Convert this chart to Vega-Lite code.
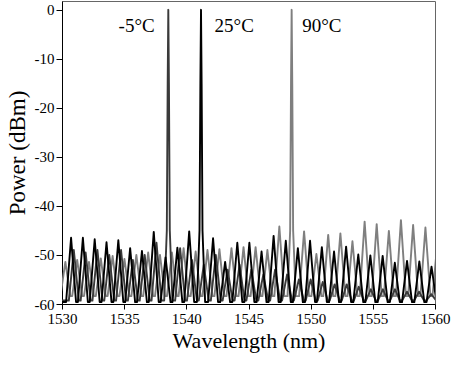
{
"$schema": "https://vega.github.io/schema/vega-lite/v6.json",
"width": 373, "height": 303,
"autosize": "none",
"padding": {"left": 62, "top": 1, "right": 16, "bottom": 66},
"config": {"font": "Liberation Serif", "view": {"stroke": "#666", "strokeWidth": 1},
"axis": {"labelFont": "Liberation Serif", "titleFont": "Liberation Serif", "labelFontSize": 15}},
"layer": [
{
"data": {"values": [
{"T":"90°C","w":1529.87,"p":-58.4},{"T":"90°C","w":1530.27,"p":-51.4},{"T":"90°C","w":1530.67,"p":-58.4},
{"T":"90°C","w":1530.82,"p":-58.4},{"T":"90°C","w":1531.22,"p":-51.0},{"T":"90°C","w":1531.62,"p":-58.4},
{"T":"90°C","w":1531.77,"p":-58.4},{"T":"90°C","w":1532.17,"p":-51.4},{"T":"90°C","w":1532.57,"p":-58.4},
{"T":"90°C","w":1532.72,"p":-58.4},{"T":"90°C","w":1533.12,"p":-50.7},{"T":"90°C","w":1533.52,"p":-58.4},
{"T":"90°C","w":1533.67,"p":-58.4},{"T":"90°C","w":1534.07,"p":-50.2},{"T":"90°C","w":1534.47,"p":-58.4},
{"T":"90°C","w":1534.62,"p":-58.4},{"T":"90°C","w":1535.02,"p":-50.8},{"T":"90°C","w":1535.42,"p":-58.4},
{"T":"90°C","w":1535.58,"p":-58.4},{"T":"90°C","w":1535.98,"p":-50.0},{"T":"90°C","w":1536.38,"p":-58.4},
{"T":"90°C","w":1536.53,"p":-58.4},{"T":"90°C","w":1536.93,"p":-49.5},{"T":"90°C","w":1537.33,"p":-58.4},
{"T":"90°C","w":1537.48,"p":-58.4},{"T":"90°C","w":1537.88,"p":-50.0},{"T":"90°C","w":1538.28,"p":-58.4},
{"T":"90°C","w":1538.44,"p":-58.4},{"T":"90°C","w":1538.84,"p":-49.5},{"T":"90°C","w":1539.24,"p":-58.4},
{"T":"90°C","w":1539.38,"p":-58.4},{"T":"90°C","w":1539.78,"p":-48.6},{"T":"90°C","w":1540.18,"p":-58.4},
{"T":"90°C","w":1540.35,"p":-58.4},{"T":"90°C","w":1540.75,"p":-49.3},{"T":"90°C","w":1541.15,"p":-58.4},
{"T":"90°C","w":1541.30,"p":-58.4},{"T":"90°C","w":1541.70,"p":-49.0},{"T":"90°C","w":1542.10,"p":-58.4},
{"T":"90°C","w":1542.26,"p":-58.4},{"T":"90°C","w":1542.66,"p":-48.8},{"T":"90°C","w":1543.06,"p":-58.4},
{"T":"90°C","w":1543.23,"p":-58.4},{"T":"90°C","w":1543.63,"p":-48.6},{"T":"90°C","w":1544.03,"p":-58.4},
{"T":"90°C","w":1544.20,"p":-58.4},{"T":"90°C","w":1544.60,"p":-48.4},{"T":"90°C","w":1545.00,"p":-58.4},
{"T":"90°C","w":1545.17,"p":-58.4},{"T":"90°C","w":1545.57,"p":-48.4},{"T":"90°C","w":1545.97,"p":-58.4},
{"T":"90°C","w":1546.12,"p":-58.4},{"T":"90°C","w":1546.52,"p":-49.0},{"T":"90°C","w":1546.92,"p":-58.4},
{"T":"90°C","w":1547.08,"p":-58.4},{"T":"90°C","w":1547.48,"p":-44.2},{"T":"90°C","w":1547.88,"p":-58.4},
{"T":"90°C","w":1548.14,"p":-58.4},{"T":"90°C","w":1548.35,"p":-45},{"T":"90°C","w":1548.42,"p":-15},{"T":"90°C","w":1548.47,"p":0},{"T":"90°C","w":1548.52,"p":-15},{"T":"90°C","w":1548.59,"p":-45},{"T":"90°C","w":1548.80,"p":-58.4},
{"T":"90°C","w":1549.07,"p":-58.4},{"T":"90°C","w":1549.47,"p":-45.2},{"T":"90°C","w":1549.87,"p":-58.4},
{"T":"90°C","w":1550.06,"p":-58.4},{"T":"90°C","w":1550.46,"p":-49.8},{"T":"90°C","w":1550.86,"p":-58.4},
{"T":"90°C","w":1551.01,"p":-58.4},{"T":"90°C","w":1551.41,"p":-45.9},{"T":"90°C","w":1551.81,"p":-58.4},
{"T":"90°C","w":1551.99,"p":-58.4},{"T":"90°C","w":1552.39,"p":-45.6},{"T":"90°C","w":1552.79,"p":-58.4},
{"T":"90°C","w":1552.96,"p":-58.4},{"T":"90°C","w":1553.36,"p":-47.2},{"T":"90°C","w":1553.76,"p":-58.4},
{"T":"90°C","w":1553.94,"p":-58.4},{"T":"90°C","w":1554.34,"p":-43.2},{"T":"90°C","w":1554.74,"p":-58.4},
{"T":"90°C","w":1554.91,"p":-58.4},{"T":"90°C","w":1555.31,"p":-43.7},{"T":"90°C","w":1555.71,"p":-58.4},
{"T":"90°C","w":1555.89,"p":-58.4},{"T":"90°C","w":1556.29,"p":-45.1},{"T":"90°C","w":1556.69,"p":-58.4},
{"T":"90°C","w":1556.86,"p":-58.4},{"T":"90°C","w":1557.26,"p":-42.9},{"T":"90°C","w":1557.66,"p":-58.4},
{"T":"90°C","w":1557.84,"p":-58.4},{"T":"90°C","w":1558.24,"p":-43.9},{"T":"90°C","w":1558.64,"p":-58.4},
{"T":"90°C","w":1558.83,"p":-58.4},{"T":"90°C","w":1559.23,"p":-44.4},{"T":"90°C","w":1559.63,"p":-58.4},
{"T":"90°C","w":1559.80,"p":-58.4},{"T":"90°C","w":1560.10,"p":-50.0},

{"T":"-5°C","w":1530.00,"p":-59.3},
{"T":"-5°C","w":1530.55,"p":-59.3},{"T":"-5°C","w":1530.95,"p":-49.0},{"T":"-5°C","w":1531.35,"p":-59.3},
{"T":"-5°C","w":1531.50,"p":-59.3},{"T":"-5°C","w":1531.90,"p":-49.5},{"T":"-5°C","w":1532.30,"p":-59.3},
{"T":"-5°C","w":1532.45,"p":-59.3},{"T":"-5°C","w":1532.85,"p":-49.0},{"T":"-5°C","w":1533.25,"p":-59.3},
{"T":"-5°C","w":1533.40,"p":-59.3},{"T":"-5°C","w":1533.80,"p":-50.0},{"T":"-5°C","w":1534.20,"p":-59.3},
{"T":"-5°C","w":1534.35,"p":-59.3},{"T":"-5°C","w":1534.75,"p":-49.0},{"T":"-5°C","w":1535.15,"p":-59.3},
{"T":"-5°C","w":1535.30,"p":-59.3},{"T":"-5°C","w":1535.70,"p":-51.0},{"T":"-5°C","w":1536.10,"p":-59.3},
{"T":"-5°C","w":1536.25,"p":-59.3},{"T":"-5°C","w":1536.65,"p":-50.0},{"T":"-5°C","w":1537.05,"p":-59.3},
{"T":"-5°C","w":1537.20,"p":-59.3},{"T":"-5°C","w":1537.60,"p":-47.5},{"T":"-5°C","w":1538.00,"p":-59.3},
{"T":"-5°C","w":1538.22,"p":-59.3},{"T":"-5°C","w":1538.43,"p":-45},{"T":"-5°C","w":1538.50,"p":-15},{"T":"-5°C","w":1538.55,"p":0},{"T":"-5°C","w":1538.60,"p":-15},{"T":"-5°C","w":1538.67,"p":-45},{"T":"-5°C","w":1538.88,"p":-59.3},
{"T":"-5°C","w":1539.10,"p":-59.3},{"T":"-5°C","w":1539.50,"p":-48.6},{"T":"-5°C","w":1539.90,"p":-59.3},
{"T":"-5°C","w":1540.05,"p":-59.3},{"T":"-5°C","w":1540.45,"p":-51.0},{"T":"-5°C","w":1540.85,"p":-59.3},
{"T":"-5°C","w":1541.00,"p":-59.3},{"T":"-5°C","w":1541.40,"p":-52.0},{"T":"-5°C","w":1541.80,"p":-59.3},
{"T":"-5°C","w":1541.97,"p":-59.3},{"T":"-5°C","w":1542.37,"p":-50.0},{"T":"-5°C","w":1542.77,"p":-59.3},
{"T":"-5°C","w":1542.92,"p":-59.3},{"T":"-5°C","w":1543.32,"p":-53.0},{"T":"-5°C","w":1543.72,"p":-59.3},
{"T":"-5°C","w":1543.88,"p":-59.3},{"T":"-5°C","w":1544.28,"p":-52.0},{"T":"-5°C","w":1544.68,"p":-59.3},
{"T":"-5°C","w":1544.83,"p":-59.3},{"T":"-5°C","w":1545.23,"p":-53.0},{"T":"-5°C","w":1545.63,"p":-59.3},
{"T":"-5°C","w":1545.79,"p":-59.3},{"T":"-5°C","w":1546.19,"p":-54.0},{"T":"-5°C","w":1546.59,"p":-59.3},
{"T":"-5°C","w":1546.74,"p":-59.3},{"T":"-5°C","w":1547.14,"p":-53.0},{"T":"-5°C","w":1547.54,"p":-59.3},
{"T":"-5°C","w":1547.70,"p":-59.3},{"T":"-5°C","w":1548.10,"p":-54.0},{"T":"-5°C","w":1548.50,"p":-59.3},
{"T":"-5°C","w":1548.65,"p":-59.3},{"T":"-5°C","w":1549.05,"p":-55.0},{"T":"-5°C","w":1549.45,"p":-59.3},
{"T":"-5°C","w":1549.60,"p":-59.3},{"T":"-5°C","w":1550.00,"p":-55.0},{"T":"-5°C","w":1550.40,"p":-59.3},
{"T":"-5°C","w":1550.57,"p":-59.3},{"T":"-5°C","w":1550.97,"p":-55.5},{"T":"-5°C","w":1551.37,"p":-59.3},
{"T":"-5°C","w":1551.53,"p":-59.3},{"T":"-5°C","w":1551.93,"p":-56.0},{"T":"-5°C","w":1552.33,"p":-59.3},
{"T":"-5°C","w":1552.50,"p":-59.3},{"T":"-5°C","w":1552.90,"p":-56.0},{"T":"-5°C","w":1553.30,"p":-59.3},
{"T":"-5°C","w":1553.47,"p":-59.3},{"T":"-5°C","w":1553.87,"p":-56.5},{"T":"-5°C","w":1554.27,"p":-59.3},
{"T":"-5°C","w":1554.44,"p":-59.3},{"T":"-5°C","w":1554.84,"p":-57.0},{"T":"-5°C","w":1555.24,"p":-59.3},
{"T":"-5°C","w":1555.41,"p":-59.3},{"T":"-5°C","w":1555.81,"p":-57.0},{"T":"-5°C","w":1556.21,"p":-59.3},
{"T":"-5°C","w":1556.38,"p":-59.3},{"T":"-5°C","w":1556.78,"p":-57.0},{"T":"-5°C","w":1557.18,"p":-59.3},
{"T":"-5°C","w":1557.35,"p":-59.3},{"T":"-5°C","w":1557.75,"p":-57.5},{"T":"-5°C","w":1558.15,"p":-59.3},
{"T":"-5°C","w":1558.32,"p":-59.3},{"T":"-5°C","w":1558.72,"p":-57.5},{"T":"-5°C","w":1559.12,"p":-59.3},
{"T":"-5°C","w":1559.30,"p":-59.3},{"T":"-5°C","w":1559.70,"p":-58.0},{"T":"-5°C","w":1560.10,"p":-59.3},

{"T":"25°C","w":1530.00,"p":-59.6},
{"T":"25°C","w":1530.33,"p":-59.6},{"T":"25°C","w":1530.73,"p":-46.5},{"T":"25°C","w":1531.13,"p":-59.6},
{"T":"25°C","w":1531.28,"p":-59.6},{"T":"25°C","w":1531.68,"p":-46.5},{"T":"25°C","w":1532.08,"p":-59.6},
{"T":"25°C","w":1532.23,"p":-59.6},{"T":"25°C","w":1532.63,"p":-46.8},{"T":"25°C","w":1533.03,"p":-59.6},
{"T":"25°C","w":1533.18,"p":-59.6},{"T":"25°C","w":1533.58,"p":-47.4},{"T":"25°C","w":1533.98,"p":-59.6},
{"T":"25°C","w":1534.13,"p":-59.6},{"T":"25°C","w":1534.53,"p":-47.0},{"T":"25°C","w":1534.93,"p":-59.6},
{"T":"25°C","w":1535.08,"p":-59.6},{"T":"25°C","w":1535.48,"p":-48.6},{"T":"25°C","w":1535.88,"p":-59.6},
{"T":"25°C","w":1536.03,"p":-59.6},{"T":"25°C","w":1536.43,"p":-49.2},{"T":"25°C","w":1536.83,"p":-59.6},
{"T":"25°C","w":1536.98,"p":-59.6},{"T":"25°C","w":1537.38,"p":-45.3},{"T":"25°C","w":1537.78,"p":-59.6},
{"T":"25°C","w":1537.93,"p":-59.6},{"T":"25°C","w":1538.33,"p":-50.5},{"T":"25°C","w":1538.73,"p":-59.6},
{"T":"25°C","w":1538.88,"p":-59.6},{"T":"25°C","w":1539.28,"p":-48.5},{"T":"25°C","w":1539.68,"p":-59.6},
{"T":"25°C","w":1539.83,"p":-59.6},{"T":"25°C","w":1540.23,"p":-45.2},{"T":"25°C","w":1540.63,"p":-59.6},
{"T":"25°C","w":1540.85,"p":-59.6},{"T":"25°C","w":1541.06,"p":-45},{"T":"25°C","w":1541.13,"p":-15},{"T":"25°C","w":1541.18,"p":0},{"T":"25°C","w":1541.23,"p":-15},{"T":"25°C","w":1541.30,"p":-45},{"T":"25°C","w":1541.51,"p":-59.6},
{"T":"25°C","w":1541.75,"p":-59.6},{"T":"25°C","w":1542.15,"p":-46.6},{"T":"25°C","w":1542.55,"p":-59.6},
{"T":"25°C","w":1542.72,"p":-59.6},{"T":"25°C","w":1543.12,"p":-51.4},{"T":"25°C","w":1543.52,"p":-59.6},
{"T":"25°C","w":1543.70,"p":-59.6},{"T":"25°C","w":1544.10,"p":-47.5},{"T":"25°C","w":1544.50,"p":-59.6},
{"T":"25°C","w":1544.67,"p":-59.6},{"T":"25°C","w":1545.07,"p":-47.5},{"T":"25°C","w":1545.47,"p":-59.6},
{"T":"25°C","w":1545.65,"p":-59.6},{"T":"25°C","w":1546.05,"p":-49.3},{"T":"25°C","w":1546.45,"p":-59.6},
{"T":"25°C","w":1546.62,"p":-59.6},{"T":"25°C","w":1547.02,"p":-46.1},{"T":"25°C","w":1547.42,"p":-59.6},
{"T":"25°C","w":1547.60,"p":-59.6},{"T":"25°C","w":1548.00,"p":-47.1},{"T":"25°C","w":1548.40,"p":-59.6},
{"T":"25°C","w":1548.57,"p":-59.6},{"T":"25°C","w":1548.97,"p":-48.6},{"T":"25°C","w":1549.37,"p":-59.6},
{"T":"25°C","w":1549.55,"p":-59.6},{"T":"25°C","w":1549.95,"p":-47.1},{"T":"25°C","w":1550.35,"p":-59.6},
{"T":"25°C","w":1550.50,"p":-59.6},{"T":"25°C","w":1550.90,"p":-48.4},{"T":"25°C","w":1551.30,"p":-59.6},
{"T":"25°C","w":1551.48,"p":-59.6},{"T":"25°C","w":1551.88,"p":-49.3},{"T":"25°C","w":1552.28,"p":-59.6},
{"T":"25°C","w":1552.45,"p":-59.6},{"T":"25°C","w":1552.85,"p":-48.3},{"T":"25°C","w":1553.25,"p":-59.6},
{"T":"25°C","w":1553.43,"p":-59.6},{"T":"25°C","w":1553.83,"p":-49.9},{"T":"25°C","w":1554.23,"p":-59.6},
{"T":"25°C","w":1554.40,"p":-59.6},{"T":"25°C","w":1554.80,"p":-50.1},{"T":"25°C","w":1555.20,"p":-59.6},
{"T":"25°C","w":1555.39,"p":-59.6},{"T":"25°C","w":1555.79,"p":-50.2},{"T":"25°C","w":1556.19,"p":-59.6},
{"T":"25°C","w":1556.37,"p":-59.6},{"T":"25°C","w":1556.77,"p":-51.6},{"T":"25°C","w":1557.17,"p":-59.6},
{"T":"25°C","w":1557.35,"p":-59.6},{"T":"25°C","w":1557.75,"p":-51.2},{"T":"25°C","w":1558.15,"p":-59.6},
{"T":"25°C","w":1558.34,"p":-59.6},{"T":"25°C","w":1558.74,"p":-51.3},{"T":"25°C","w":1559.14,"p":-59.6},
{"T":"25°C","w":1559.32,"p":-59.6},{"T":"25°C","w":1559.72,"p":-52.4},{"T":"25°C","w":1560.12,"p":-59.6}
]},
"mark": {"type": "line", "clip": true, "strokeWidth": 1.9, "strokeJoin": "round"},
"encoding": {
"x": {"field": "w", "type": "quantitative", "scale": {"domain": [1530, 1560], "nice": false, "zero": false},
"axis": {"title": "Wavelength (nm)", "values": [1530,1532.5,1535,1537.5,1540,1542.5,1545,1547.5,1550,1552.5,1555,1557.5,1560],
"labelExpr": "datum.value % 5 === 0 ? '' + datum.value : ''",
"tickSize": {"condition": {"test": "datum.value % 5 === 0", "value": 5}, "value": 3},
"grid": false, "domainColor": "#000", "tickColor": "#000", "labelColor": "#000", "titleColor": "#000",
"labelFont": "Liberation Serif", "labelFontSize": 15, "labelPadding": 2, "labelFlush": false,
"titleFont": "Liberation Serif", "titleFontSize": 22, "titleFontWeight": "normal", "titlePadding": 4}},
"y": {"field": "p", "type": "quantitative", "scale": {"domain": [-60, 1.8], "nice": false, "zero": false},
"axis": {"title": "Power (dBm)", "values": [-60,-55,-50,-45,-40,-35,-30,-25,-20,-15,-10,-5,0],
"labelExpr": "datum.value % 10 === 0 ? '' + datum.value : ''",
"tickSize": {"condition": {"test": "datum.value % 10 === 0", "value": 6}, "value": 3},
"grid": false, "domainColor": "#000", "tickColor": "#000", "labelColor": "#000", "titleColor": "#000",
"labelFont": "Liberation Serif", "labelFontSize": 15, "labelPadding": 2, "labelFlush": false,
"titleFont": "Liberation Serif", "titleFontSize": 23, "titleFontWeight": "normal", "titlePadding": 5}},
"color": {"field": "T", "type": "nominal", "legend": null,
"scale": {"domain": ["90°C", "-5°C", "25°C"], "range": ["#7f7f7f", "#3a3a3a", "#000000"]}},
"order": {"field": "w", "type": "quantitative"}
}
},
{
"data": {"values": [
{"label": "-5°C", "w": 1536.0, "p": -3.2},
{"label": "25°C", "w": 1543.85, "p": -3.2},
{"label": "90°C", "w": 1550.9, "p": -3.2}
]},
"mark": {"type": "text", "font": "Liberation Serif", "fontSize": 19, "color": "#000", "baseline": "middle", "align": "center"},
"encoding": {
"x": {"field": "w", "type": "quantitative"},
"y": {"field": "p", "type": "quantitative"},
"text": {"field": "label"}
}
}
]
}
